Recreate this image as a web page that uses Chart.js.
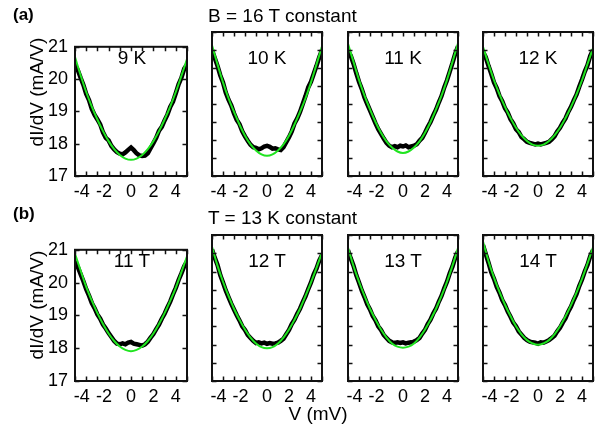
<!DOCTYPE html>
<html><head><meta charset="utf-8">
<script src="https://cdn.jsdelivr.net/npm/chart.js@4/dist/chart.umd.min.js"></script>
<style>
body{margin:0;width:602px;height:426px;background:#fff;position:relative;overflow:hidden;font-family:"Liberation Sans",Arial,sans-serif;color:#000;}
canvas{position:absolute;}
.t{position:absolute;white-space:nowrap;line-height:22px;height:22px;font-size:19px;}
.c{transform:translateX(-50%);}
.r{transform:translate(-50%,-50%) rotate(-90deg);}
</style></head><body>
<script>
// ---- data ----
const xFit = [-5,-4.5,-4,-3.5,-3,-2.5,-2,-1.5,-1,-0.5,0,0.5,1,1.5,2,2.5,3,3.5,4,4.5,5];
const xData = [-5,-4.75,-4.5,-4.25,-4,-3.75,-3.5,-3.25,-3,-2.75,-2.5,-2.25,-2,-1.75,-1.5,-1.25,-1,-0.75,-0.5,-0.25,0,
               0.25,0.5,0.75,1,1.25,1.5,1.75,2,2.25,2.5,2.75,3,3.25,3.5,3.75,4,4.25,4.5,4.75,5];
const xTickLabels = [-4,-2,0,2,4];
const yTickLabels = [17,18,19,20,21];
const panelLabels = ["9 K","10 K","11 K","12 K","11 T","12 T","13 T","14 T"];

const fit9K  = [20.68,20.12,19.6,19.15,18.75,18.39,18.08,17.83,17.65,17.54,17.5,17.54,17.65,17.83,18.08,18.39,18.75,19.15,19.6,20.1,20.62];
const data9K = [20.45,20.28,20.04,19.82,19.54,19.35,19.08,18.89,18.75,18.6,18.35,18.18,18.1,17.93,17.82,17.74,17.69,17.67,17.73,17.81,17.88,
                17.8,17.7,17.64,17.62,17.63,17.7,17.86,18.02,18.18,18.4,18.52,18.72,18.9,19.14,19.3,19.56,19.84,20.04,20.32,20.45];
const fit10K  = [20.63,20.1,19.6,19.16,18.78,18.43,18.12,17.88,17.71,17.6,17.56,17.6,17.71,17.88,18.12,18.43,18.78,19.16,19.6,20.1,20.6];
const data10K = [20.5,20.28,20.06,19.8,19.6,19.32,19.12,18.96,18.74,18.56,18.44,18.24,18.1,17.98,17.87,17.8,17.78,17.74,17.77,17.82,17.84,
                 17.81,17.76,17.77,17.74,17.72,17.8,17.94,18.08,18.24,18.46,18.6,18.78,19.0,19.22,19.46,19.62,19.84,20.06,20.3,20.5];
const fit11K  = [20.67,20.17,19.67,19.23,18.85,18.5,18.2,17.96,17.79,17.68,17.64,17.68,17.79,17.96,18.2,18.5,18.85,19.23,19.67,20.17,20.69];
const data11K = [20.48,20.34,20.12,19.86,19.62,19.42,19.18,19.0,18.82,18.64,18.46,18.3,18.17,18.04,17.92,17.84,17.8,17.83,17.8,17.84,17.82,
                 17.85,17.8,17.82,17.84,17.88,17.98,18.06,18.2,18.36,18.5,18.68,18.84,19.04,19.22,19.46,19.66,19.9,20.14,20.4,20.6];
const fit12K  = [20.59,20.11,19.66,19.27,18.92,18.61,18.34,18.13,17.97,17.87,17.84,17.87,17.97,18.13,18.34,18.61,18.92,19.27,19.66,20.11,20.55];
const data12K = [20.45,20.3,20.06,19.84,19.6,19.44,19.22,19.08,18.88,18.76,18.58,18.46,18.3,18.22,18.08,18.02,17.95,17.92,17.9,17.88,17.9,
                 17.88,17.9,17.92,17.95,18.02,18.1,18.24,18.34,18.48,18.6,18.78,18.92,19.1,19.26,19.48,19.68,19.9,20.08,20.34,20.5];
const fit11T  = [20.88,20.37,19.87,19.45,19.07,18.74,18.45,18.22,18.05,17.95,17.91,17.95,18.05,18.22,18.45,18.74,19.07,19.44,19.85,20.32,20.8];
const data11T = [20.65,20.48,20.26,20.04,19.8,19.6,19.38,19.22,19.03,18.9,18.72,18.6,18.46,18.34,18.22,18.14,18.12,18.15,18.12,18.17,18.19,
                 18.14,18.12,18.1,18.08,18.12,18.2,18.32,18.43,18.58,18.72,18.9,19.05,19.24,19.42,19.64,19.84,20.08,20.28,20.5,20.65];
const fit12T  = [20.68,20.16,19.72,19.33,18.98,18.68,18.41,18.19,18.03,17.93,17.9,17.93,18.03,18.19,18.41,18.68,18.98,19.33,19.7,20.1,20.52];
const data12T = [20.6,20.38,20.18,19.9,19.7,19.48,19.3,19.12,18.96,18.8,18.66,18.5,18.4,18.26,18.18,18.1,18.04,18.06,18.03,18.05,18.02,
                 18.04,18.02,18.03,18.05,18.1,18.16,18.28,18.4,18.56,18.68,18.84,18.98,19.16,19.32,19.52,19.7,19.92,20.08,20.3,20.45];
const fit13T  = [20.66,20.15,19.72,19.33,18.98,18.68,18.41,18.19,18.03,17.94,17.91,17.94,18.03,18.19,18.41,18.68,18.98,19.33,19.72,20.16,20.64];
const data13T = [20.58,20.36,20.16,19.9,19.7,19.48,19.3,19.1,18.96,18.78,18.66,18.5,18.4,18.26,18.18,18.1,18.06,18.04,18.06,18.04,18.06,
                 18.03,18.05,18.06,18.08,18.12,18.18,18.3,18.4,18.56,18.68,18.85,18.98,19.17,19.33,19.54,19.72,19.95,20.14,20.38,20.55];
const fit14T  = [20.82,20.28,19.83,19.44,19.09,18.78,18.5,18.28,18.12,18.03,17.99,18.03,18.12,18.28,18.5,18.77,19.08,19.42,19.8,20.22,20.66];
const data14T = [20.72,20.48,20.24,19.98,19.8,19.58,19.42,19.22,19.08,18.9,18.76,18.6,18.5,18.36,18.27,18.18,18.12,18.08,18.06,18.05,18.02,
                 18.06,18.05,18.08,18.12,18.18,18.24,18.36,18.46,18.6,18.72,18.9,19.04,19.22,19.38,19.6,19.78,20.0,20.18,20.42,20.58];

const fits = [fit9K,fit10K,fit11K,fit12K,fit11T,fit12T,fit13T,fit14T];
const datas = [data9K,data10K,data11K,data12K,data11T,data12T,data13T,data14T];

// ---- layout ----
const colLeft = [75,210,346,481];
const plotW = 114;
const rowTop = [32,235];
const plotH = [144,146];
const PAD = 3, XH = 30, YW = 72;

const framePlugin = {
  id:'frame',
  afterDatasetsDraw(chart){
    const {ctx, chartArea:a, scales:{x,y}} = chart;
    ctx.save();
    ctx.strokeStyle='#111'; ctx.lineWidth=1.5;
    const L=4.5;
    ctx.beginPath();
    x.ticks.forEach(t=>{const px=Math.round(x.getPixelForValue(t.value))+0.5;
      ctx.moveTo(px,a.bottom); ctx.lineTo(px,a.bottom-L); ctx.moveTo(px,a.top); ctx.lineTo(px,a.top+L);});
    y.ticks.forEach(t=>{const py=Math.round(y.getPixelForValue(t.value))+0.5;
      ctx.moveTo(a.left,py); ctx.lineTo(a.left+L,py); ctx.moveTo(a.right,py); ctx.lineTo(a.right-L,py);});
    ctx.stroke();
    ctx.lineWidth=2; ctx.strokeStyle='#111';
    ctx.strokeRect(a.left,a.top,a.right-a.left,a.bottom-a.top);
    ctx.restore();
  }
};

Chart.defaults.font.family = '"Liberation Sans", Arial, sans-serif';
Chart.defaults.font.size = 18;
Chart.defaults.color = '#000';

function addText(txt, left, top, cls, extra){
  const d=document.createElement('div'); d.className='t '+(cls||''); d.textContent=txt;
  d.style.left=left+'px'; d.style.top=top+'px'; if(extra) Object.assign(d.style, extra);
  document.body.appendChild(d);
}

for(let p=0;p<8;p++){
  const r = Math.floor(p/4), c = p%4;
  const first = c===0;
  const yw = first ? YW : 0;
  const cv = document.createElement('canvas');
  const W = PAD + yw + plotW + PAD, H = PAD + plotH[r] + XH;
  cv.width=W; cv.height=H;
  cv.style.left=(colLeft[c]-yw-PAD)+'px'; cv.style.top=(rowTop[r]-PAD)+'px';
  document.body.appendChild(cv);
  new Chart(cv, {
    type:'line',
    data:{datasets:[
      {data:xFit.map((v,i)=>({x:v,y:fits[p][i]})), borderColor:'#20e420', borderWidth:2, pointRadius:0, tension:0.4, order:0},
      {data:xData.map((v,i)=>({x:v,y:datas[p][i]})), borderColor:'#000', borderWidth:4.5, pointRadius:0, tension:0, order:1}
    ]},
    options:{
      responsive:false, animation:false, devicePixelRatio:1,
      layout:{padding:{left:PAD,right:PAD,top:PAD,bottom:0}},
      plugins:{legend:{display:false}, tooltip:{enabled:false}},
      scales:{
        x:{type:'linear', min:-5, max:5, grid:{display:false,drawTicks:false}, border:{display:false},
           ticks:{stepSize:1, autoSkip:false, maxRotation:0, padding:5,
                  callback:(v)=> xTickLabels.includes(v) ? (v<0 ? String(v)+'\u2002' : String(v)) : ''},
           afterFit:(s)=>{s.height=XH;}},
        y:{type:'linear', min:17, max:21, grid:{display:false,drawTicks:false}, border:{display:false},
           ticks:{stepSize:0.5, display:first, padding:7,
                  callback:(v)=> yTickLabels.includes(v) ? String(v) : ''},
           afterFit:(s)=>{s.width=yw;}}
      }
    },
    plugins:[framePlugin]
  });
  addText(panelLabels[p], colLeft[c]+plotW/2, rowTop[r]+15, 'c');
}

addText('(a)', 13, 4, '', {fontWeight:'bold', fontSize:'17px'});
addText('B = 16 T constant', 208, 5);
addText('(b)', 13, 203, '', {fontWeight:'bold', fontSize:'17px'});
addText('T = 13 K constant', 208, 207);
addText('dI/dV (mA/V)', 37, 92, 'r');
addText('dI/dV (mA/V)', 37, 305, 'r');
addText('V (mV)', 318, 403, 'c');
</script>
</body></html>
